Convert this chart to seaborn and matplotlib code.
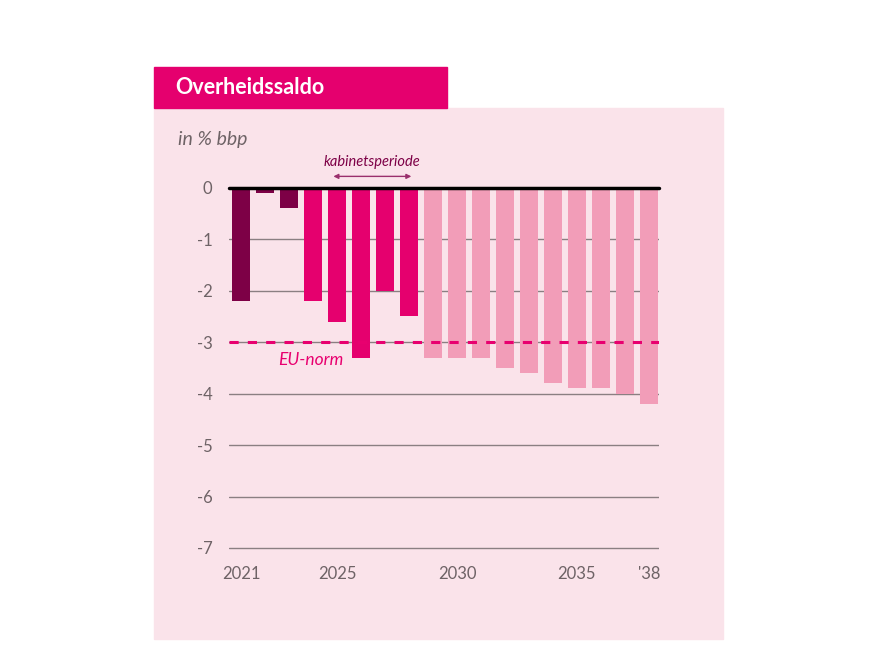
import pandas as pd
import seaborn as sns
import matplotlib.pyplot as plt
from matplotlib.patches import Rectangle

# Data
years = [str(y) for y in range(2021, 2039)]
saldo = [-2.2, -0.1, -0.4, -2.2, -2.6, -3.3, -2.0, -2.5, -3.3,
         -3.3, -3.3, -3.5, -3.6, -3.8, -3.9, -3.9, -4.0, -4.2]
period = ["realisatie"] * 3 + ["kabinet"] * 5 + ["raming"] * 10
tick_years = ["2021", "2025", "2030", "2035", "2038"]
tick_labels = ["2021", "2025", "2030", "2035", "'38"]
y_ticks = [0, -1, -2, -3, -4, -5, -6, -7]
eu_norm = -3

df = pd.DataFrame({"jaar": years, "saldo": saldo, "periode": period})

sns.set_style("white")
plt.rcParams["font.family"] = ["Lato", "DejaVu Sans"]

dark = "#7d0046"
magenta = "#e5006e"
light = "#f29db8"
bg = "#fae3ea"
grey = "#6e6366"

fig = plt.figure(figsize=(8.76, 6.70), dpi=100)
W, H = 876, 670

# pink panel and header block
fig.patches.append(Rectangle((154 / W, 1 - 639 / H), (723 - 154) / W, (639 - 108) / H,
                             transform=fig.transFigure, color=bg, zorder=-5))
fig.patches.append(Rectangle((154 / W, 1 - 108 / H), (447 - 154) / W, (108 - 67) / H,
                             transform=fig.transFigure, color=magenta, zorder=-5))
fig.text(175 / W, 1 - 87.5 / H, "Overheidssaldo", color="white", fontsize=15.5,
         fontweight="bold", va="center", ha="left")
fig.text(178 / W, 1 - 140 / H, "in % bbp", color=grey, fontsize=14,
         style="italic", va="center", ha="left")

# axes: 0 at y=187.7 px, -7 at y=548 px; extend a bit below -7 so that gridline shows
unit = (548 - 187.7) / 7
bottom_px = 548 + 0.1 * unit
ax = fig.add_axes([229 / W, 1 - bottom_px / H, (659 - 229) / W, (bottom_px - 187.7) / H])
ax.set_facecolor("none")

sns.barplot(data=df, x="jaar", y="saldo", hue="periode", order=years,
            palette={"realisatie": dark, "kabinet": magenta, "raming": light},
            dodge=False, width=0.75, saturation=1, legend=False, ax=ax, zorder=2,
            linewidth=0, edgecolor="none")

ax.set_xlim(-0.5, 17.42)
ax.set_ylim(-7.1, 0)
ax.set_yticks(y_ticks)
ax.set_yticklabels([str(v) for v in y_ticks])
ax.set_xticks([years.index(y) for y in tick_years])
ax.set_xticklabels(tick_labels)
ax.tick_params(axis="both", length=0, labelsize=12, labelcolor=grey)
ax.tick_params(axis="y", pad=12)
ax.tick_params(axis="x", pad=9)
ax.set_xlabel("")
ax.set_ylabel("")
for s in ax.spines.values():
    s.set_visible(False)

ax.set_axisbelow(True)
ax.yaxis.grid(True, color="#8a7f82", linewidth=1)

ax.axhline(0, color="black", linewidth=2.5, zorder=5, clip_on=False)
ax.axhline(eu_norm, color="#e8006f", linewidth=2.2, dashes=(3, 3), zorder=4)
ax.text(2.9, -3.34, "EU-norm", color="#e8006f", fontsize=12.5, style="italic",
        ha="center", va="center")

# kabinetsperiode arrow
ax.annotate("", xy=(7.1, 0.22), xytext=(3.85, 0.22), annotation_clip=False,
            arrowprops=dict(arrowstyle="<|-|>", color="#9a2f6c", lw=1,
                            mutation_scale=7, shrinkA=0, shrinkB=0))
ax.text(5.47, 0.5, "kabinetsperiode", color="#7d0046", fontsize=10.5, style="italic",
        ha="center", va="center", clip_on=False)

fig.savefig("out.png", dpi=100)
